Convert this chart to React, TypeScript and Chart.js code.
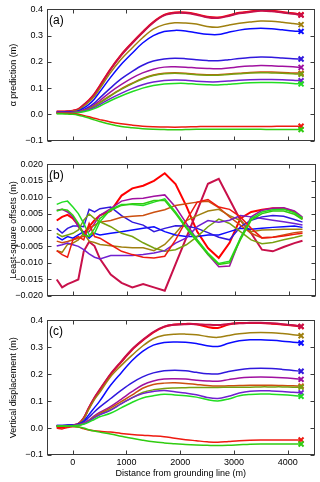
import React, { useEffect, useRef } from "react";
import { Chart, registerables } from "chart.js";
Chart.register(...registerables);

// ---------- data ----------
const XS = [-300, -200, -100, 0, 100, 200, 300, 400, 500, 700, 900, 1100, 1300, 1500, 1700, 1900, 2100, 2300, 2500, 2700, 2900, 3100, 3300, 3500, 3700, 3900, 4100, 4250];
const X_TICKS = [0, 1000, 2000, 3000, 4000];
const Y_TICKS_AC = [-0.1, 0, 0.1, 0.2, 0.3, 0.4];
const Y_TICKS_B = [-0.02, -0.015, -0.01, -0.005, 0, 0.005, 0.01, 0.015, 0.02];

const COLORS = ["#ff0000", "#c8104a", "#a08010", "#0a0aff", "#3018dd", "#a010a0", "#cc5010", "#78a010", "#7020d0", "#22dd22", "#ee1a10", "#30cc10"];

// panel (a): alpha prediction
const A1 = [0.011, 0.011, 0.012, 0.014, 0.020, 0.036, 0.054, 0.077, 0.108, 0.172, 0.227, 0.272, 0.314, 0.352, 0.379, 0.388, 0.388, 0.382, 0.372, 0.369, 0.377, 0.387, 0.392, 0.397, 0.395, 0.390, 0.385, 0.380];
const A2 = [0.010, 0.010, 0.011, 0.013, 0.018, 0.035, 0.052, 0.075, 0.105, 0.170, 0.225, 0.270, 0.312, 0.350, 0.377, 0.386, 0.386, 0.380, 0.370, 0.367, 0.375, 0.385, 0.390, 0.395, 0.393, 0.388, 0.383, 0.378];
const A3 = [0.009, 0.009, 0.010, 0.012, 0.016, 0.030, 0.047, 0.068, 0.097, 0.158, 0.210, 0.252, 0.292, 0.325, 0.342, 0.349, 0.348, 0.344, 0.335, 0.332, 0.340, 0.347, 0.352, 0.356, 0.355, 0.351, 0.346, 0.342];
const A4 = [0.008, 0.008, 0.009, 0.010, 0.013, 0.024, 0.038, 0.058, 0.085, 0.140, 0.190, 0.232, 0.272, 0.300, 0.316, 0.320, 0.318, 0.311, 0.305, 0.304, 0.313, 0.321, 0.326, 0.328, 0.326, 0.322, 0.318, 0.316];
const A5 = [0.008, 0.008, 0.008, 0.009, 0.011, 0.018, 0.028, 0.043, 0.062, 0.100, 0.135, 0.163, 0.187, 0.203, 0.211, 0.214, 0.212, 0.208, 0.205, 0.204, 0.208, 0.213, 0.217, 0.219, 0.218, 0.215, 0.212, 0.211];
const A6 = [0.007, 0.007, 0.007, 0.008, 0.010, 0.016, 0.024, 0.036, 0.052, 0.085, 0.113, 0.138, 0.158, 0.172, 0.180, 0.181, 0.180, 0.177, 0.175, 0.174, 0.177, 0.181, 0.184, 0.186, 0.185, 0.183, 0.181, 0.179];
const A7 = [0.006, 0.006, 0.006, 0.007, 0.009, 0.014, 0.021, 0.031, 0.045, 0.072, 0.097, 0.118, 0.137, 0.150, 0.157, 0.159, 0.157, 0.153, 0.151, 0.151, 0.154, 0.157, 0.160, 0.161, 0.161, 0.160, 0.158, 0.157];
const A8 = [0.005, 0.005, 0.005, 0.006, 0.008, 0.013, 0.020, 0.030, 0.043, 0.070, 0.095, 0.116, 0.135, 0.148, 0.155, 0.157, 0.155, 0.151, 0.149, 0.149, 0.152, 0.155, 0.158, 0.159, 0.158, 0.157, 0.155, 0.153];
const A9 = [0.005, 0.005, 0.005, 0.006, 0.008, 0.012, 0.018, 0.026, 0.037, 0.060, 0.080, 0.098, 0.113, 0.123, 0.129, 0.131, 0.130, 0.126, 0.124, 0.124, 0.127, 0.130, 0.132, 0.133, 0.133, 0.132, 0.130, 0.128];
const A10 = [0.003, 0.003, 0.003, 0.004, 0.006, 0.010, 0.015, 0.022, 0.031, 0.052, 0.070, 0.086, 0.100, 0.110, 0.116, 0.118, 0.118, 0.115, 0.113, 0.112, 0.115, 0.118, 0.120, 0.121, 0.121, 0.120, 0.118, 0.116];
const A11 = [0.004, 0.004, 0.004, 0.003, 0.000, -0.004, -0.009, -0.015, -0.020, -0.029, -0.036, -0.041, -0.045, -0.047, -0.048, -0.049, -0.048, -0.047, -0.046, -0.046, -0.046, -0.046, -0.046, -0.046, -0.046, -0.045, -0.045, -0.045];
const A12 = [0.002, 0.002, 0.001, 0.000, -0.003, -0.008, -0.014, -0.021, -0.027, -0.038, -0.046, -0.051, -0.055, -0.057, -0.058, -0.059, -0.058, -0.057, -0.057, -0.057, -0.057, -0.057, -0.057, -0.057, -0.058, -0.058, -0.058, -0.058];

// panel (b): least-square offsets (m)
const B1 = [0.0029, 0.0040, 0.0046, 0.0035, 0.0015, -0.0010, 0.0010, 0.0030, 0.0045, 0.0058, 0.0105, 0.0127, 0.0135, 0.0150, 0.0173, 0.0140, 0.0073, -0.0005, -0.0055, -0.0085, -0.0039, 0.0035, 0.0055, 0.0062, 0.0066, 0.0066, 0.0055, 0.0034];
const B2 = [-0.0151, -0.0175, -0.0165, -0.0158, -0.0151, -0.0065, -0.0036, -0.0049, -0.0088, -0.0136, -0.0161, -0.0175, -0.0165, -0.0175, -0.0185, -0.0104, -0.0023, 0.0059, 0.0141, 0.0156, 0.0093, 0.0030, -0.0010, -0.0060, -0.0065, -0.0052, -0.0040, -0.0033];
const B3 = [-0.0063, -0.0068, -0.0044, -0.0040, -0.0030, -0.0010, -0.0034, -0.0038, -0.0044, -0.0048, -0.0052, -0.0054, -0.0054, -0.0063, -0.0044, -0.0010, 0.0029, 0.0044, 0.0058, 0.0063, 0.0044, 0.0029, -0.0005, 0.0000, 0.0001, 0.0002, 0.0002, 0.0002];
const B4 = [-0.0020, -0.0030, -0.0020, -0.0025, -0.0015, -0.0005, -0.0025, -0.0010, -0.0015, -0.0010, -0.0005, 0.0000, 0.0005, 0.0010, -0.0005, -0.0015, -0.0020, -0.0020, -0.0015, -0.0015, -0.0005, 0.0005, 0.0002, 0.0005, 0.0008, 0.0010, 0.0012, 0.0008];
const B5 = [0.0005, -0.0009, 0.0005, 0.0012, 0.0012, 0.0010, 0.0063, 0.0055, 0.0065, 0.0070, 0.0044, 0.0024, 0.0015, -0.0005, 0.0005, 0.0013, 0.0012, 0.0005, -0.0008, -0.0022, -0.0030, 0.0010, 0.0030, 0.0040, 0.0044, 0.0042, 0.0032, 0.0024];
const B6 = [0.0060, 0.0063, 0.0055, 0.0040, 0.0010, -0.0010, -0.0005, 0.0020, 0.0045, 0.0065, 0.0088, 0.0095, 0.0097, 0.0103, 0.0107, 0.0070, 0.0020, -0.0030, -0.0075, -0.0112, -0.0110, -0.0025, 0.0040, 0.0060, 0.0066, 0.0068, 0.0058, 0.0039];
const B7 = [-0.0034, -0.0039, -0.0035, -0.0030, -0.0025, -0.0019, 0.0005, 0.0015, 0.0024, 0.0029, 0.0039, 0.0042, 0.0044, 0.0054, 0.0062, 0.0075, 0.0080, 0.0085, 0.0088, 0.0068, 0.0040, 0.0015, -0.0010, -0.0024, -0.0022, -0.0015, -0.0008, -0.0005];
const B8 = [-0.0010, -0.0020, -0.0015, -0.0010, 0.0000, 0.0030, 0.0049, 0.0035, 0.0025, 0.0010, -0.0010, -0.0020, -0.0039, -0.0055, -0.0065, -0.0060, -0.0045, -0.0020, 0.0010, 0.0033, 0.0020, -0.0005, -0.0030, -0.0042, -0.0038, -0.0030, -0.0023, -0.0017];
const B9 = [-0.0049, -0.0045, -0.0040, -0.0045, -0.0050, -0.0060, -0.0073, -0.0083, -0.0088, -0.0078, -0.0078, -0.0078, -0.0075, -0.0070, -0.0063, -0.0040, -0.0024, 0.0010, 0.0029, 0.0024, 0.0030, 0.0044, 0.0040, 0.0035, 0.0030, 0.0025, 0.0020, 0.0015];
const B10 = [0.0078, 0.0085, 0.0088, 0.0070, 0.0050, 0.0020, -0.0015, -0.0010, 0.0025, 0.0063, 0.0078, 0.0078, 0.0075, 0.0085, 0.0095, 0.0055, 0.0010, -0.0030, -0.0070, -0.0102, -0.0095, -0.0025, 0.0035, 0.0055, 0.0062, 0.0063, 0.0053, 0.0036];
const B11 = [-0.0063, -0.0075, -0.0083, -0.0030, -0.0020, -0.0030, 0.0020, -0.0020, -0.0025, -0.0045, -0.0065, -0.0075, -0.0083, -0.0085, -0.0080, -0.0030, 0.0029, 0.0085, 0.0093, 0.0070, 0.0063, 0.0040, 0.0005, -0.0024, -0.0022, -0.0018, -0.0013, -0.0010];
const B12 = [0.0058, 0.0063, 0.0060, 0.0045, 0.0020, -0.0015, -0.0020, 0.0005, 0.0035, 0.0060, 0.0075, 0.0080, 0.0080, 0.0090, 0.0090, 0.0050, 0.0005, -0.0035, -0.0075, -0.0105, -0.0100, -0.0030, 0.0030, 0.0050, 0.0058, 0.0058, 0.0048, 0.0032];

// panel (c): vertical displacement
const C1 = [0.004, 0.002, 0.006, 0.010, 0.015, 0.035, 0.075, 0.110, 0.140, 0.198, 0.245, 0.290, 0.325, 0.355, 0.376, 0.385, 0.387, 0.386, 0.376, 0.372, 0.385, 0.390, 0.390, 0.390, 0.388, 0.385, 0.381, 0.377];
const C2 = [0.008, 0.008, 0.009, 0.011, 0.016, 0.036, 0.076, 0.112, 0.142, 0.200, 0.247, 0.292, 0.327, 0.357, 0.377, 0.384, 0.386, 0.386, 0.384, 0.383, 0.387, 0.389, 0.391, 0.391, 0.389, 0.386, 0.382, 0.378];
const C3 = [0.009, 0.009, 0.010, 0.011, 0.015, 0.033, 0.070, 0.105, 0.132, 0.190, 0.232, 0.270, 0.305, 0.332, 0.345, 0.349, 0.349, 0.347, 0.340, 0.337, 0.344, 0.350, 0.354, 0.355, 0.354, 0.351, 0.347, 0.343];
const C4 = [0.010, 0.010, 0.011, 0.012, 0.014, 0.025, 0.050, 0.075, 0.100, 0.158, 0.205, 0.250, 0.285, 0.308, 0.318, 0.320, 0.319, 0.314, 0.306, 0.303, 0.315, 0.324, 0.328, 0.328, 0.326, 0.323, 0.319, 0.316];
const C5 = [0.010, 0.010, 0.010, 0.011, 0.013, 0.022, 0.040, 0.060, 0.078, 0.109, 0.140, 0.168, 0.190, 0.205, 0.213, 0.215, 0.213, 0.207, 0.202, 0.201, 0.210, 0.217, 0.221, 0.222, 0.221, 0.218, 0.214, 0.211];
const C6 = [0.009, 0.009, 0.009, 0.010, 0.012, 0.018, 0.030, 0.045, 0.058, 0.080, 0.107, 0.135, 0.160, 0.175, 0.182, 0.183, 0.182, 0.178, 0.175, 0.174, 0.180, 0.186, 0.189, 0.190, 0.189, 0.187, 0.184, 0.181];
const C7 = [0.008, 0.008, 0.008, 0.009, 0.011, 0.017, 0.028, 0.042, 0.054, 0.074, 0.098, 0.122, 0.148, 0.162, 0.167, 0.168, 0.166, 0.162, 0.158, 0.156, 0.157, 0.158, 0.159, 0.159, 0.159, 0.158, 0.157, 0.156];
const C8 = [0.008, 0.008, 0.008, 0.009, 0.011, 0.016, 0.026, 0.040, 0.050, 0.068, 0.091, 0.112, 0.132, 0.142, 0.147, 0.149, 0.150, 0.151, 0.151, 0.151, 0.152, 0.152, 0.152, 0.153, 0.153, 0.153, 0.152, 0.152];
const C9 = [0.008, 0.008, 0.008, 0.009, 0.011, 0.016, 0.026, 0.039, 0.049, 0.066, 0.090, 0.112, 0.128, 0.136, 0.140, 0.135, 0.130, 0.124, 0.114, 0.110, 0.118, 0.130, 0.137, 0.139, 0.138, 0.136, 0.133, 0.131];
const C10 = [0.007, 0.007, 0.007, 0.008, 0.010, 0.014, 0.022, 0.032, 0.042, 0.055, 0.075, 0.095, 0.112, 0.120, 0.126, 0.123, 0.120, 0.115, 0.106, 0.101, 0.108, 0.120, 0.125, 0.127, 0.126, 0.124, 0.121, 0.118];
const C11 = [0.000, -0.003, 0.002, 0.005, 0.004, -0.002, -0.007, -0.010, -0.012, -0.015, -0.020, -0.024, -0.027, -0.029, -0.032, -0.038, -0.043, -0.047, -0.051, -0.053, -0.050, -0.047, -0.045, -0.044, -0.044, -0.044, -0.044, -0.044];
const C12 = [0.008, 0.008, 0.008, 0.007, 0.004, 0.000, -0.006, -0.011, -0.015, -0.022, -0.030, -0.038, -0.045, -0.051, -0.055, -0.058, -0.061, -0.063, -0.064, -0.065, -0.064, -0.062, -0.060, -0.059, -0.059, -0.059, -0.059, -0.059];

const PANEL_A = [A12, A11, A10, A9, A8, A7, A6, A5, A4, A3, A2, A1];
const PANEL_B = [B12, B11, B10, B9, B8, B7, B6, B5, B4, B3, B2, B1];
const PANEL_C = [C12, C11, C10, C9, C8, C7, C6, C5, C4, C3, C2, C1];
const ORDER_COLORS = [COLORS[11], COLORS[10], COLORS[9], COLORS[8], COLORS[7], COLORS[6], COLORS[5], COLORS[4], COLORS[3], COLORS[2], COLORS[1], COLORS[0]];

const FONT = '"Liberation Sans", Arial, sans-serif';
const X_MIN = -480;
const X_MAX = 4500;

const framePlugin = {
  id: "frame",
  afterDatasetsDraw(chart: any, _args: any, opts: any) {
    const { ctx, chartArea: a, scales } = chart;
    ctx.save();
    ctx.strokeStyle = "#3a3a3a";
    ctx.lineWidth = 1;
    const L = Math.round(a.left) + 0.5;
    const R = Math.round(a.right) - 0.5;
    const T = Math.round(a.top) + 0.5;
    const B = Math.round(a.bottom) - 0.5;
    ctx.beginPath();
    for (const v of opts.xTicks) {
      const p = Math.round(scales.x.getPixelForValue(v)) + 0.5;
      ctx.moveTo(p, B); ctx.lineTo(p, B - 4);
      ctx.moveTo(p, T); ctx.lineTo(p, T + 4);
    }
    for (const v of opts.yTicks) {
      const p = Math.round(scales.y.getPixelForValue(v)) + 0.5;
      ctx.moveTo(L, p); ctx.lineTo(L + 4, p);
      ctx.moveTo(R, p); ctx.lineTo(R - 4, p);
    }
    ctx.stroke();
    ctx.strokeRect(L, T, R - L, B - T);
    ctx.fillStyle = "#000";
    ctx.font = `12px ${FONT}`;
    ctx.textBaseline = "middle";
    ctx.textAlign = "left";
    ctx.fillText(opts.label, a.left + 2, a.top + 11);
    ctx.restore();
  },
};

function fmt(v: number, d: number) {
  if (Math.abs(v) < 1e-9) return (0).toFixed(d);
  return (v < 0 ? "\u2212" : "") + Math.abs(v).toFixed(d);
}

function makeConfig(series: number[][], opts: any) {
  const last = XS.length - 1;
  return {
    type: "line",
    data: {
      datasets: series.map((arr, i) => ({
        data: XS.map((x, j) => ({ x, y: arr[j] })),
        borderColor: ORDER_COLORS[i],
        backgroundColor: ORDER_COLORS[i],
        borderWidth: i >= 10 ? 2 : 1.5,
        fill: false,
        tension: opts.smooth ? 0.35 : 0,
        pointStyle: "crossRot",
        pointRadius: (c: any) => (opts.markers && c.dataIndex === last ? 3.5 : 0),
        pointBorderWidth: 2,
        pointBorderColor: ORDER_COLORS[i],
        pointHoverRadius: 0,
      })),
    },
    options: {
      animation: false,
      responsive: false,
      events: [],
      layout: { padding: { left: 0, right: 4, top: opts.padTop, bottom: opts.padBottom } },
      plugins: {
        legend: { display: false },
        tooltip: { enabled: false },
        frame: { xTicks: X_TICKS, yTicks: opts.yTicks, label: opts.label },
      },
      scales: {
        x: opts.showX
          ? {
              type: "linear",
              min: X_MIN,
              max: X_MAX,
              afterBuildTicks: (s: any) => { s.ticks = X_TICKS.map((v) => ({ value: v })); },
              afterFit: (s: any) => { s.height = 27; },
              grid: { display: false, drawTicks: false },
              border: { display: false },
              ticks: { padding: 2, color: "#000", font: { size: 9, family: FONT }, callback: (v: any) => String(v) },
              title: { display: true, text: "Distance from grounding line (m)", color: "#000", font: { size: 9, family: FONT }, padding: { top: 0, bottom: 3 } },
            }
          : { type: "linear", min: X_MIN, max: X_MAX, display: false },
        y: {
          type: "linear",
          min: opts.yMin,
          max: opts.yMax,
          afterBuildTicks: (s: any) => { s.ticks = opts.yTicks.map((v: number) => ({ value: v })); },
          afterFit: (s: any) => { s.width = 47; },
          grid: { display: false, drawTicks: false },
          border: { display: false },
          ticks: { padding: 4, color: "#000", font: { size: 9, family: FONT }, callback: (v: any) => fmt(v, opts.dec) },
          title: { display: true, text: opts.title, color: "#000", font: { size: 9, family: FONT }, padding: { top: 8, bottom: 0 } },
        },
      },
    },
    plugins: [framePlugin],
  };
}

function Panel({ top, height, config }: { top: number; height: number; config: any }) {
  const ref = useRef<HTMLCanvasElement | null>(null);
  useEffect(() => {
    if (!ref.current) return;
    const chart = new Chart(ref.current, config);
    return () => chart.destroy();
  }, []);
  return (
    <canvas
      ref={ref}
      width={320}
      height={height}
      style={{ position: "absolute", left: 0, top, width: 320, height }}
    />
  );
}

export default function App() {
  const cfgA = makeConfig(PANEL_A, { smooth: true, markers: true, padTop: 7, padBottom: 5, showX: false, yMin: -0.1, yMax: 0.4, yTicks: Y_TICKS_AC, dec: 1, title: "\u03b1 prediction (m)", label: "(a)" });
  const cfgB = makeConfig(PANEL_B, { smooth: false, markers: false, padTop: 8, padBottom: 5, showX: false, yMin: -0.02, yMax: 0.02, yTicks: Y_TICKS_B, dec: 3, title: "Least-square offsets (m)", label: "(b)" });
  const cfgC = makeConfig(PANEL_C, { smooth: true, markers: true, padTop: 7, padBottom: 0, showX: true, yMin: -0.1, yMax: 0.4, yTicks: Y_TICKS_AC, dec: 1, title: "Vertical displacement (m)", label: "(c)" });
  return (
    <div style={{ position: "fixed", left: 0, top: 0, width: 320, height: 482, background: "#fff", overflow: "hidden" }}>
      <Panel top={0} height={150} config={cfgA} />
      <Panel top={155} height={150} config={cfgB} />
      <Panel top={311} height={171} config={cfgC} />
    </div>
  );
}
